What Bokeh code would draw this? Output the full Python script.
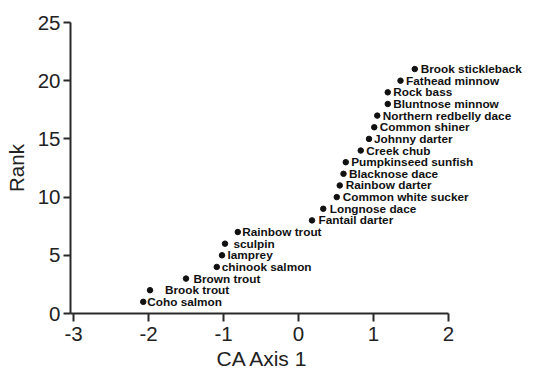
from bokeh.plotting import figure
from bokeh.models import ColumnDataSource, LabelSet, FixedTicker, Range1d, Title
from bokeh.core.properties import value
from bokeh.embed import file_html
from bokeh.resources import INLINE

species = ["Coho salmon", "Brook trout", "Brown trout", "chinook salmon", "lamprey",
           "sculpin", "Rainbow trout", "Fantail darter", "Longnose dace",
           "Common white sucker", "Rainbow darter", "Blacknose dace",
           "Pumpkinseed sunfish", "Creek chub", "Johnny darter", "Common shiner",
           "Northern redbelly dace", "Bluntnose minnow", "Rock bass",
           "Fathead minnow", "Brook stickleback"]
ca_axis1 = [-2.07, -1.98, -1.50, -1.09, -1.02, -0.98, -0.81, 0.18, 0.33, 0.51, 0.55,
            0.60, 0.63, 0.83, 0.94, 1.01, 1.05, 1.19, 1.19, 1.36, 1.55]
rank = [1, 2, 3, 4, 5, 6, 7, 8, 9, 10, 11, 12, 13, 14, 15, 16, 17, 18, 19, 20, 21]
x_ticks = [-3, -2, -1, 0, 1, 2]
y_ticks = [0, 5, 10, 15, 20, 25]
x_title = "CA Axis 1"
y_title = "Rank"

# label offsets in screen px (style)
label_dx = [4, 15, 7.5, 5, 5.5, 8.5, 4.5, 6.5, 6.5, 6, 6, 5.5, 5.5, 5.5, 5, 5.5,
            5.5, 5.5, 5.5, 5.5, 6]

src = ColumnDataSource(dict(x=ca_axis1, y=rank, name=species, dx=label_dx))

AX = "#2a2a2a"
p = figure(width=540, height=370, output_backend="svg", toolbar_location=None,
           x_range=Range1d(-3.04, 3.12), y_range=Range1d(0, 25),
           min_border_left=70, min_border_right=8, min_border_top=22,
           min_border_bottom=57, outline_line_color=None)
p.grid.visible = False

p.scatter("x", "y", source=src, size=5.5, color="#111111")
labels = LabelSet(x="x", y="y", text="name", x_offset="dx", source=src,
                  text_font=value("Liberation Sans"), text_font_style="bold",
                  text_font_size="11.8px", text_baseline="middle",
                  text_color="#111111")
p.add_layout(labels)

for ax in (p.xaxis[0], p.yaxis[0]):
    ax.axis_line_width = 2
    ax.axis_line_color = AX
    ax.major_tick_line_width = 2
    ax.major_tick_line_color = AX
    ax.major_tick_in = 0
    ax.minor_tick_line_color = None
    ax.major_label_text_font = "Liberation Sans"
    ax.major_label_text_font_size = "20.5px"
    ax.major_label_text_color = "#222222"
    ax.axis_label_text_font = "Liberation Sans"
    ax.axis_label_text_font_size = "20.5px"
    ax.axis_label_text_font_style = "normal"
    ax.axis_label_text_color = "#222222"

p.xaxis[0].ticker = FixedTicker(ticks=x_ticks)
p.xaxis[0].major_label_overrides = {t: str(t) for t in x_ticks}
p.xaxis[0].bounds = (-3.04, 2)
p.xaxis[0].major_tick_out = 8
p.xaxis[0].major_label_standoff = 5

p.yaxis[0].ticker = FixedTicker(ticks=y_ticks)
p.yaxis[0].major_tick_out = 7
p.yaxis[0].major_label_standoff = 3
p.yaxis[0].axis_label = y_title
p.yaxis[0].axis_label_standoff = 7

# x-axis title centred under the -3..2 span of the axis
xt = Title(text=x_title, align="left", offset=146, standoff=2,
           text_font="Liberation Sans", text_font_size="21px",
           text_font_style="normal", text_color="#222222")
p.add_layout(xt, "below")

open("out.html", "w").write(file_html(p, INLINE))
